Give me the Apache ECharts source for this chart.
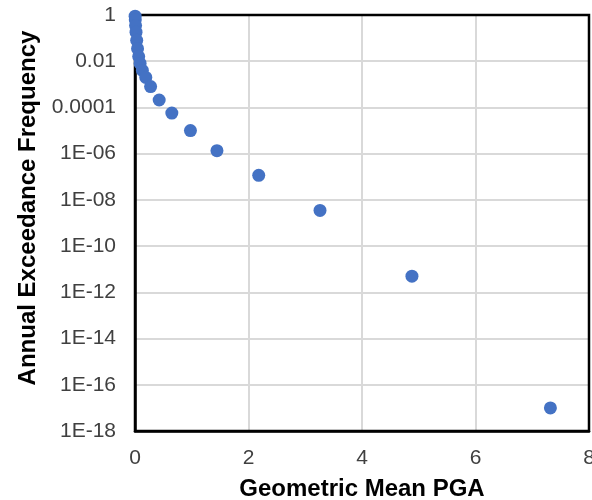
<!DOCTYPE html>
<html>
<head>
<meta charset="utf-8">
<script src="https://cdn.jsdelivr.net/npm/echarts@6/dist/echarts.min.js"></script>
<style>html,body{margin:0;padding:0;background:#fff}#c{width:592px;height:500px}</style>
</head>
<body>
<div id="c"></div>
<script>
var pga = [0.002, 0.005, 0.01, 0.018, 0.03, 0.045, 0.065, 0.09, 0.13, 0.19, 0.275, 0.426, 0.649, 0.977, 1.444, 2.18, 3.26, 4.88, 7.32];
var freq = [0.89, 0.63, 0.35, 0.18, 0.08, 0.035, 0.016, 0.008, 0.004, 0.002, 8e-4, 2.1e-4, 5.7e-5, 1e-5, 1.35e-6, 1.15e-7, 3.5e-9, 5e-12, 1e-17];
var yTickLabels = ['1', '0.01', '0.0001', '1E-06', '1E-08', '1E-10', '1E-12', '1E-14', '1E-16', '1E-18'];
var xTickLabels = ['0', '2', '4', '6', '8'];
var xTitle = 'Geometric Mean PGA';
var yTitle = 'Annual Exceedance Frequency';

var points = pga.map(function (x, i) { return [x, freq[i]]; });
var font = "'Liberation Sans', Arial, sans-serif";
var chart = echarts.init(document.getElementById('c'));
chart.setOption({
  animation: false,
  grid: { left: 135, right: 3, top: 15, bottom: 69, outerBoundsMode: 'none', containLabel: false, show: true, borderColor: '#000', borderWidth: 2.5, backgroundColor: 'transparent', z: 3 },
  xAxis: {
    type: 'value', min: 0, max: 8, interval: 2,
    name: xTitle, nameLocation: 'middle', nameGap: 46,
    nameTextStyle: { fontFamily: font, fontSize: 24, fontWeight: 'bold', color: '#000' },
    axisLine: { show: true, lineStyle: { color: '#000', width: 2.5 } },
    axisTick: { show: false },
    axisLabel: { fontFamily: font, fontSize: 21, color: '#404040', margin: 17,
      formatter: function (v) { return xTickLabels[Math.round(v / 2)]; } },
    splitLine: { show: true, showMinLine: false, showMaxLine: false, lineStyle: { color: '#d9d9d9', width: 2 } }
  },
  yAxis: {
    type: 'log', logBase: 10, min: 1e-18, max: 1, interval: 2,
    name: yTitle, nameLocation: 'middle', nameGap: 95,
    nameTextStyle: { fontFamily: font, fontSize: 24, fontWeight: 'bold', color: '#000', padding: [0, 0, 0, 30] },
    axisLine: { show: true, lineStyle: { color: '#000', width: 2.5 } },
    axisTick: { show: false },
    axisLabel: { fontFamily: font, fontSize: 21, color: '#404040', margin: 19,
      formatter: function (v) { return yTickLabels[Math.round(-Math.log10(v) / 2)]; } },
    splitLine: { show: true, showMinLine: false, showMaxLine: false, lineStyle: { color: '#d9d9d9', width: 2 } }
  },
  series: [{
    type: 'scatter', data: points, symbolSize: 13, clip: false, z: 5,
    itemStyle: { color: '#4472C4', opacity: 1 }
  }]
});
</script>
</body>
</html>
